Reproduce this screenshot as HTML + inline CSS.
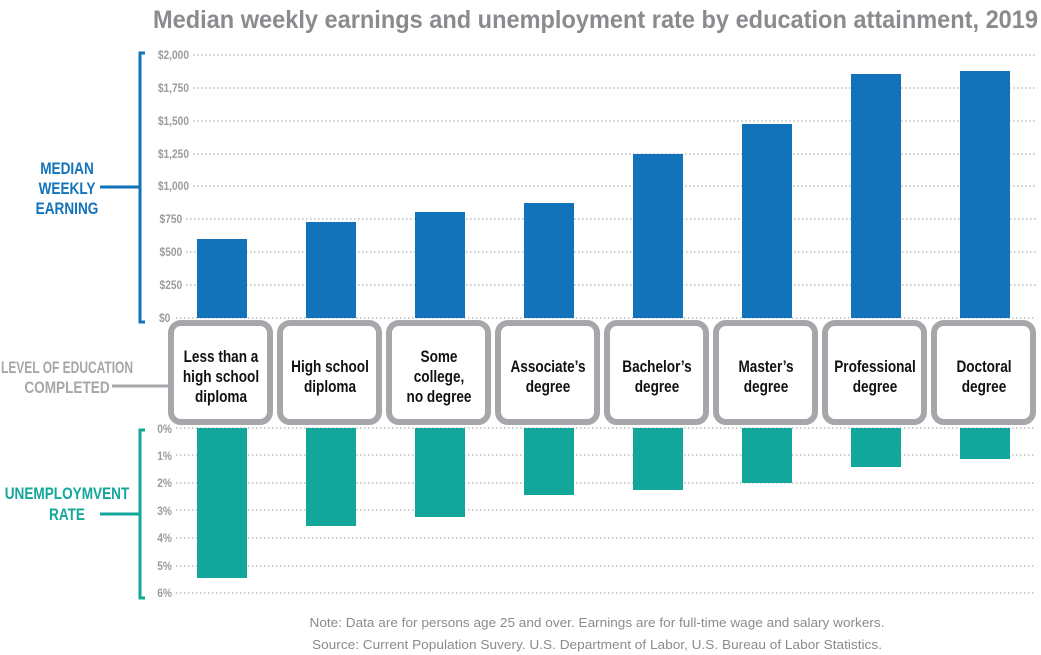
<!DOCTYPE html>
<html><head><meta charset="utf-8"><style>
html,body{margin:0;padding:0;background:#fff}
svg{display:block}
text{font-family:"Liberation Sans",sans-serif}
</style></head><body>
<svg width="1041" height="655" viewBox="0 0 1041 655" xmlns="http://www.w3.org/2000/svg">
<text x="153" y="28" font-size="25" font-weight="bold" fill="#8a8b8e" textLength="885" lengthAdjust="spacingAndGlyphs">Median weekly earnings and unemployment rate by education attainment, 2019</text>
<g stroke="#9a9b9e" stroke-width="1" stroke-dasharray="1.5,2.5">
<line x1="193" y1="55" x2="1036" y2="55"/><line x1="193" y1="88" x2="1036" y2="88"/><line x1="193" y1="121" x2="1036" y2="121"/><line x1="193" y1="154" x2="1036" y2="154"/><line x1="193" y1="186" x2="1036" y2="186"/><line x1="186" y1="219" x2="1036" y2="219"/><line x1="186" y1="252" x2="1036" y2="252"/><line x1="186" y1="285" x2="1036" y2="285"/><line x1="176" y1="318" x2="1036" y2="318"/>
<line x1="176" y1="428" x2="1036" y2="428"/><line x1="176" y1="455" x2="1036" y2="455"/><line x1="176" y1="483" x2="1036" y2="483"/><line x1="176" y1="510" x2="1036" y2="510"/><line x1="176" y1="538" x2="1036" y2="538"/><line x1="176" y1="566" x2="1036" y2="566"/><line x1="176" y1="593" x2="1036" y2="593"/>
</g>
<g transform="translate(189,0) scale(0.85,1)" font-size="12" font-weight="bold" fill="#9a9b9e" text-anchor="end">
<text x="0" y="59">$2,000</text><text x="0" y="92">$1,750</text><text x="0" y="125">$1,500</text><text x="0" y="158">$1,250</text><text x="0" y="190">$1,000</text><text x="-8" y="223">$750</text><text x="-8" y="256">$500</text><text x="-8" y="289">$250</text><text x="-22" y="322">$0</text>
</g>
<g transform="translate(172,0) scale(0.85,1)" font-size="12" font-weight="bold" fill="#9a9b9e" text-anchor="end">
<text x="0" y="433">0%</text><text x="0" y="460">1%</text><text x="0" y="487">2%</text><text x="0" y="515">3%</text><text x="0" y="542">4%</text><text x="0" y="570">5%</text><text x="0" y="597">6%</text>
</g>
<path d="M145,53 H140 V322 H145" fill="none" stroke="#1273bb" stroke-width="3"/>
<line x1="100" y1="187" x2="140" y2="187" stroke="#1273bb" stroke-width="3"/>
<path d="M145,430 H140 V598 H145" fill="none" stroke="#13a79b" stroke-width="3"/>
<line x1="100" y1="514" x2="140" y2="514" stroke="#13a79b" stroke-width="3"/>
<line x1="112" y1="386" x2="170" y2="386" stroke="#a6a7aa" stroke-width="3"/>
<g transform="translate(67,0) scale(0.8,1)" font-size="17" font-weight="bold" text-anchor="middle">
<text x="0" y="174" fill="#1273bb">MEDIAN</text><text x="0" y="194" fill="#1273bb">WEEKLY</text><text x="0" y="214" fill="#1273bb">EARNING</text>
<text x="0" y="393" fill="#a6a7aa">COMPLETED</text>
<text x="0" y="499" fill="#13a79b">UNEMPLOYMVENT</text><text x="0" y="520" fill="#13a79b">RATE</text>
</g>
<text x="67" y="373" fill="#a6a7aa" font-size="17" font-weight="bold" text-anchor="middle" textLength="132" lengthAdjust="spacingAndGlyphs">LEVEL OF EDUCATION</text>
<g fill="#1273bb">
<rect x="197" y="239" width="50" height="79"/>
<rect x="306" y="222" width="50" height="96"/>
<rect x="415" y="212" width="50" height="106"/>
<rect x="524" y="203" width="50" height="115"/>
<rect x="633" y="154" width="50" height="164"/>
<rect x="742" y="124" width="50" height="194"/>
<rect x="851" y="74" width="50" height="244"/>
<rect x="960" y="71" width="50" height="247"/>
</g>
<g fill="#13a79b">
<rect x="197" y="428" width="50" height="150"/>
<rect x="306" y="428" width="50" height="98"/>
<rect x="415" y="428" width="50" height="89"/>
<rect x="524" y="428" width="50" height="67"/>
<rect x="633" y="428" width="50" height="62"/>
<rect x="742" y="428" width="50" height="55"/>
<rect x="851" y="428" width="50" height="39"/>
<rect x="960" y="428" width="50" height="31"/>
</g>
<g fill="#fff" stroke="#a6a7aa" stroke-width="6">
<rect x="171" y="323" width="99" height="99" rx="10"/>
<rect x="280" y="323" width="99" height="99" rx="10"/>
<rect x="389" y="323" width="99" height="99" rx="10"/>
<rect x="498" y="323" width="99" height="99" rx="10"/>
<rect x="607" y="323" width="99" height="99" rx="10"/>
<rect x="716" y="323" width="99" height="99" rx="10"/>
<rect x="825" y="323" width="99" height="99" rx="10"/>
<rect x="934" y="323" width="99" height="99" rx="10"/>
</g>
<g font-size="17" font-weight="bold" fill="#111" text-anchor="middle">
<g transform="translate(221,0) scale(0.8,1)"><text x="0" y="362">Less than a</text><text x="0" y="382">high school</text><text x="0" y="402">diploma</text></g>
<g transform="translate(330,0) scale(0.8,1)"><text x="0" y="372">High school</text><text x="0" y="392">diploma</text></g>
<g transform="translate(439,0) scale(0.8,1)"><text x="0" y="362">Some</text><text x="0" y="382">college,</text><text x="0" y="402">no degree</text></g>
<g transform="translate(548,0) scale(0.8,1)"><text x="0" y="372">Associate’s</text><text x="0" y="392">degree</text></g>
<g transform="translate(657,0) scale(0.8,1)"><text x="0" y="372">Bachelor’s</text><text x="0" y="392">degree</text></g>
<g transform="translate(766,0) scale(0.8,1)"><text x="0" y="372">Master’s</text><text x="0" y="392">degree</text></g>
<g transform="translate(875,0) scale(0.8,1)"><text x="0" y="372">Professional</text><text x="0" y="392">degree</text></g>
<g transform="translate(984,0) scale(0.8,1)"><text x="0" y="372">Doctoral</text><text x="0" y="392">degree</text></g>
</g>
<g font-size="13" fill="#8a8b8e" text-anchor="middle">
<text x="597" y="627" textLength="575" lengthAdjust="spacingAndGlyphs">Note: Data are for persons age 25 and over. Earnings are for full-time wage and salary workers.</text>
<text x="597" y="649" textLength="570" lengthAdjust="spacingAndGlyphs">Source: Current Population Suvery. U.S. Department of Labor, U.S. Bureau of Labor Statistics.</text>
</g>
</svg>
</body></html>
